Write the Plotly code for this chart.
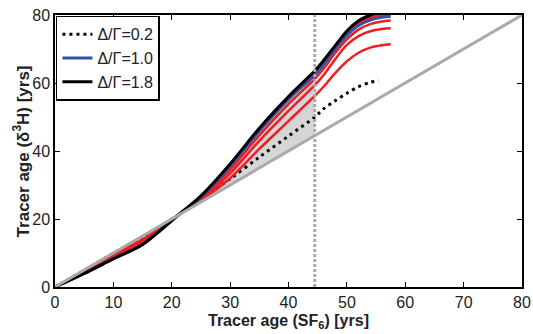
import numpy as np
import plotly.graph_objects as go

# x grid (SF6 tracer age, yrs)
X = [0, 5, 10, 15, 21, 25, 30, 35, 40, 44.5, 46, 48, 50, 52, 54, 56, 57.5]
X_02 = [0, 5, 10, 15, 21, 25, 30, 35, 40, 44.5, 46, 48, 50, 52, 54, 55.4]

y_18 = [0, 4.0, 8.3, 12.5, 21.0, 26.8, 36.2, 46.7, 56.0, 63.6, 66.6, 71.0, 75.3, 78.3, 80.0, 81.0, 81.4]
y_16 = [0, 4.0, 8.3, 12.5, 21.0, 26.7, 36.0, 46.5, 55.8, 63.3, 66.3, 70.7, 74.9, 77.9, 79.6, 80.5, 80.9]
y_14 = [0, 4.0, 8.3, 12.5, 21.0, 26.6, 35.9, 46.3, 55.6, 63.0, 66.0, 70.4, 74.6, 77.6, 79.2, 80.1, 80.5]
y_12 = [0, 4.0, 8.3, 12.5, 21.0, 26.5, 35.7, 46.1, 55.4, 62.7, 65.7, 70.1, 74.3, 77.2, 78.8, 79.6, 80.0]
y_10 = [0, 4.0, 8.3, 12.5, 20.9, 26.4, 35.5, 45.9, 55.2, 62.4, 65.4, 69.9, 74.0, 76.9, 78.5, 79.3, 79.6]
y_08 = [0, 4.2, 8.7, 13.0, 21.0, 26.0, 34.5, 44.6, 53.8, 61.2, 64.2, 68.8, 72.8, 75.7, 77.3, 78.1, 78.4]
y_06 = [0, 4.4, 9.0, 13.5, 21.0, 25.7, 33.4, 43.0, 51.8, 59.4, 62.3, 67.0, 71.2, 73.8, 75.2, 75.9, 76.1]
y_04 = [0, 4.6, 9.5, 14.0, 21.1, 25.5, 32.0, 40.6, 48.8, 56.2, 58.9, 62.9, 66.4, 68.9, 70.4, 71.1, 71.4]
y_02 = [0, 4.9, 9.9, 14.6, 21.1, 25.8, 31.8, 38.2, 44.4, 50.0, 52.4, 54.8, 57.0, 58.9, 60.2, 60.8]

X_CUT = 44.5  # vertical marker
ONE_TO_ONE = [0, 80]
X_TICKS = [0, 10, 20, 30, 40, 50, 60, 70, 80]
Y_TICKS = [0, 20, 40, 60, 80]
X_TITLE = "<b>Tracer age (SF<sub>6</sub>) [yrs]</b>"
Y_TITLE = "<b>Tracer age (δ<sup>3</sup>H) [yrs]</b>"

RED = "rgb(237,30,36)"
BLUE = "rgb(52,82,168)"
GRAY = "rgb(170,170,170)"
FILL = "rgb(212,214,216)"
FONT = "Liberation Sans, Arial, Helvetica"

fig = go.Figure()

# shaded envelope between 1:1 line and curves up to X_CUT
xa = np.array(X)
m = xa <= X_CUT
curves = np.array([y_18, y_16, y_14, y_12, y_10, y_08, y_06, y_04])
upper = np.maximum(curves.max(axis=0), xa)[m]
lower = np.minimum(curves.min(axis=0), xa)[m]
xf = xa[m]
fig.add_trace(go.Scatter(
    x=list(xf) + list(xf[::-1]), y=list(upper) + list(lower[::-1]),
    fill="toself", fillcolor=FILL, line=dict(width=0), mode="lines",
    showlegend=False, hoverinfo="skip"))

SM = 0.9
fig.add_trace(go.Scatter(x=X_02, y=y_02, mode="lines", name="Δ/Γ=0.2",
                         line=dict(color="black", width=3, dash="3px,4px", shape="spline", smoothing=SM)))
for yy in [y_04, y_06, y_08, y_12, y_14, y_16]:
    fig.add_trace(go.Scatter(x=X, y=yy, mode="lines", showlegend=False,
                             line=dict(color=RED, width=2.5, shape="spline", smoothing=SM)))
fig.add_trace(go.Scatter(x=X, y=y_10, mode="lines", name="Δ/Γ=1.0",
                         line=dict(color=BLUE, width=3, shape="spline", smoothing=SM)))
fig.add_trace(go.Scatter(x=X, y=y_18, mode="lines", name="Δ/Γ=1.8",
                         line=dict(color="black", width=3, shape="spline", smoothing=SM)))

# 1:1 line
fig.add_trace(go.Scatter(x=ONE_TO_ONE, y=ONE_TO_ONE, mode="lines", showlegend=False,
                         line=dict(color=GRAY, width=3)))
# vertical marker
fig.add_trace(go.Scatter(x=[X_CUT, X_CUT], y=[0, 80], mode="lines", showlegend=False,
                         line=dict(color=GRAY, width=3, dash="3px,2px")))

axis_common = dict(showline=True, linecolor="black", linewidth=1.5, mirror="ticks",
                   ticks="inside", ticklen=5, tickcolor="black", showgrid=False, zeroline=False,
                   automargin=False,
                   tickfont=dict(family=FONT, size=16, color="#222"))
fig.update_xaxes(range=[0, 80], tickvals=X_TICKS, **axis_common)
fig.update_yaxes(range=[0, 80], tickvals=Y_TICKS, **axis_common)

fig.add_annotation(text=X_TITLE, xref="paper", yref="paper", x=0.5, y=-0.127,
                   xanchor="center", yanchor="middle", showarrow=False,
                   font=dict(family=FONT, size=16, color="#222"))
fig.add_annotation(text=Y_TITLE, xref="paper", yref="paper", x=-0.072, y=0.5,
                   xanchor="center", yanchor="middle", showarrow=False, textangle=-90,
                   font=dict(family=FONT, size=17, color="#222"))

fig.update_layout(
    width=533, height=334,
    margin=dict(l=55, r=11, t=15, b=47),
    plot_bgcolor="white", paper_bgcolor="white",
    legend=dict(x=0.002, y=0.997, xanchor="left", yanchor="top",
                bordercolor="black", borderwidth=1.5, bgcolor="white",
                font=dict(family=FONT, size=16, color="#222"),
                tracegroupgap=0, itemwidth=30),
)
fig.write_html("out.html")
